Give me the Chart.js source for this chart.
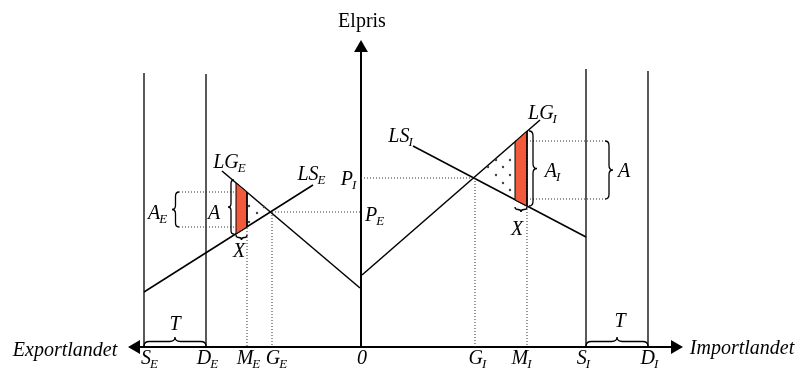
<!DOCTYPE html>
<html>
<head>
<meta charset="utf-8">
<script src="https://cdn.jsdelivr.net/npm/chart.js@4.4.0/dist/chart.umd.min.js"></script>
<style>
  html, body { margin: 0; padding: 0; background: #fff; }
  canvas { display: block; }
</style>
</head>
<body>
<canvas id="myChart" width="805" height="372"></canvas>
<script>
// units: x = quantity from the price axis (export left, import right), y = price above the quantity axis
const axisEnds = [-233, 322];
const priceTop = 307;
const walls = [-217, -155, 225, 287];      // S_E, D_E, S_I, D_I
const wallTops = [274, 273, 278, 276];

// supply / demand lines
const LS_E = [[-217, 55], [-48, 162]];
const LG_E = [[-139, 176], [-1, 59]];
const LS_I = [[52, 201], [225, 110]];
const LG_I = [[1, 72], [179, 227]];

// red strips (loss areas)
const stripE = [[-125, 164], [-114, 155], [-114, 120], [-125, 113]];
const stripI = [[154, 205], [166, 216], [166, 141], [154, 147]];

// dotted guide lines
const guides = [
  [[-89, 135], [0, 135]],     // P_E
  [[-89, 135], [-89, 0]],     // G_E
  [[-114, 155], [-114, 0]],   // M_E
  [[0, 169], [114, 169]],     // P_I
  [[114, 169], [114, 0]],     // G_I
  [[166, 216], [166, 0]],     // M_I
  [[-182, 155], [-114, 155]], // A_E top
  [[-182, 120], [-114, 120]], // A_E bottom
  [[154, 206], [244, 206]],   // A top
  [[154, 148], [244, 148]]    // A bottom
];

// dots in the triangles
const dotsE = [[-112, 141], [-104, 134], [-112, 125], [-97, 140]];
const dotsI = [[135, 187], [149, 187], [127, 180], [142, 180], [135, 172], [149, 172], [142, 164], [149, 157]];

// braces: from a to b, tip on the left of the direction (screen), d = depth px
const braces = [
  { a: [-182, 155], b: [-182, 120], d: 7 },
  { a: [-127, 167], b: [-127, 113], d: 6 },
  { a: [-125, 112], b: [-114, 112], d: 5 },
  { a: [168, 141], b: [168, 216], d: 8 },
  { a: [244, 148], b: [244, 206], d: 8 },
  { a: [154, 140], b: [166, 140], d: 5 },
  { a: [-155, 1], b: [-217, 1], d: 9 },
  { a: [287, 1], b: [225, 1], d: 9 }
];

// texts
const texts = [
  { t: 'Elpris', x: 1, y: 327, it: false },
  { t: 'Exportlandet', x: -296, y: -2 },
  { t: 'Importlandet', x: 381, y: 0 },
  { t: 'S', s: 'E', x: -211, y: -10 },
  { t: 'D', s: 'E', x: -153, y: -10 },
  { t: 'M', s: 'E', x: -112, y: -10 },
  { t: 'G', s: 'E', x: -84, y: -10 },
  { t: '0', x: 1, y: -10 },
  { t: 'G', s: 'I', x: 117, y: -10 },
  { t: 'M', s: 'I', x: 161, y: -10 },
  { t: 'S', s: 'I', x: 223, y: -10 },
  { t: 'D', s: 'I', x: 289, y: -10 },
  { t: 'LG', s: 'E', x: -131, y: 186 },
  { t: 'LS', s: 'E', x: -49, y: 174 },
  { t: 'P', s: 'I', x: -12, y: 169 },
  { t: 'P', s: 'E', x: 14, y: 133 },
  { t: 'LS', s: 'I', x: 40, y: 212 },
  { t: 'LG', s: 'I', x: 182, y: 235 },
  { t: 'A', s: 'E', x: -203, y: 135 },
  { t: 'A', x: -147, y: 135 },
  { t: 'X', x: -122, y: 97 },
  { t: 'A', s: 'I', x: 192, y: 177 },
  { t: 'A', x: 263, y: 177 },
  { t: 'X', x: 156, y: 119 },
  { t: 'T', x: -186, y: 24 },
  { t: 'T', x: 259, y: 27 }
];

const RED = '#f15a3b';
const ARROW = 8;   // arrow head radius; Chart.js also insets the plot area by this much
const pts = arr => arr.map(p => ({ x: p[0], y: p[1] }));
const lineSet = (arr, w) => ({ data: pts(arr), showLine: true, borderColor: '#000', borderWidth: w, pointRadius: 0, fill: false });

const datasets = [];
[stripE, stripI].forEach(s => datasets.push({
  data: pts(s.concat([s[0]])), showLine: true, fill: 'shape', backgroundColor: RED,
  borderColor: '#000', borderWidth: 1, pointRadius: 0
}));
guides.forEach(g => datasets.push({
  data: pts(g), showLine: true, borderColor: '#333', borderWidth: 1, borderDash: [1, 2], pointRadius: 0, fill: false
}));
datasets.push({ data: pts(dotsE.concat(dotsI)), showLine: false, pointRadius: 1.2, backgroundColor: '#444', borderWidth: 0 });
walls.forEach((x, i) => datasets.push(lineSet([[x, 0], [x, wallTops[i]]], 1.3)));
[LS_E, LG_E, LS_I, LG_I].forEach(l => datasets.push(lineSet(l, 1.5)));
datasets.push(lineSet([[0, 0], [0, priceTop - ARROW]], 2));
datasets.push(lineSet([[axisEnds[0] + ARROW, 0], [axisEnds[1] - ARROW, 0]], 2));
datasets.push({
  data: pts([[0, priceTop - ARROW], [axisEnds[0] + ARROW, 0], [axisEnds[1] - ARROW, 0]]),
  showLine: false, pointStyle: 'triangle', pointRadius: ARROW, pointRotation: [0, -90, 90],
  backgroundColor: '#000', borderColor: '#000', borderWidth: 0
});

function drawBrace(ctx, p1, p2, w) {
  const len = Math.hypot(p2[0] - p1[0], p2[1] - p1[1]);
  const ux = (p2[0] - p1[0]) / len, uy = (p2[1] - p1[1]) / len;
  const nx = -uy * w, ny = ux * w;
  const mx = (p1[0] + p2[0]) / 2, my = (p1[1] + p2[1]) / 2;
  const r = Math.min(w * 0.6, len / 4);
  ctx.beginPath();
  ctx.moveTo(p1[0], p1[1]);
  ctx.quadraticCurveTo(p1[0] + nx / 2, p1[1] + ny / 2, p1[0] + nx / 2 + ux * r, p1[1] + ny / 2 + uy * r);
  ctx.lineTo(mx + nx / 2 - ux * r, my + ny / 2 - uy * r);
  ctx.quadraticCurveTo(mx + nx / 2, my + ny / 2, mx + nx, my + ny);
  ctx.quadraticCurveTo(mx + nx / 2, my + ny / 2, mx + nx / 2 + ux * r, my + ny / 2 + uy * r);
  ctx.lineTo(p2[0] + nx / 2 - ux * r, p2[1] + ny / 2 - uy * r);
  ctx.quadraticCurveTo(p2[0] + nx / 2, p2[1] + ny / 2, p2[0], p2[1]);
  ctx.stroke();
}

const annotations = {
  id: 'annotations',
  afterDatasetsDraw(chart) {
    const ctx = chart.ctx, sx = chart.scales.x, sy = chart.scales.y;
    const px = p => [sx.getPixelForValue(p[0]), sy.getPixelForValue(p[1])];
    ctx.save();
    ctx.strokeStyle = '#000';
    ctx.lineWidth = 1.3;
    braces.forEach(b => drawBrace(ctx, px(b.a), px(b.b), b.d));
    ctx.fillStyle = '#000';
    ctx.textAlign = 'left';
    ctx.textBaseline = 'alphabetic';
    texts.forEach(l => {
      const [cx, cy] = px([l.x, l.y]);
      const mainFont = (l.it === false ? '' : 'italic ') + '20px "Liberation Serif", "Times New Roman", serif';
      const subFont = 'italic 13px "Liberation Serif", "Times New Roman", serif';
      ctx.font = mainFont;
      const w1 = ctx.measureText(l.t).width;
      let w2 = 0;
      if (l.s) { ctx.font = subFont; w2 = ctx.measureText(l.s).width; }
      const x0 = cx - (w1 + w2) / 2;
      const base = cy + 7;
      ctx.font = mainFont;
      ctx.fillText(l.t, x0, base);
      if (l.s) { ctx.font = subFont; ctx.fillText(l.s, x0 + w1 - 1, base + 4); }
    });
    ctx.restore();
  }
};

new Chart(document.getElementById('myChart'), {
  type: 'scatter',
  data: { datasets: datasets },
  options: {
    responsive: false,
    animation: false,
    devicePixelRatio: 1,
    layout: { padding: 0 },
    plugins: { legend: { display: false }, tooltip: { enabled: false } },
    scales: {
      x: { type: 'linear', min: -361 + ARROW, max: 444 - ARROW, display: false },
      y: { type: 'linear', min: -25 + ARROW, max: 347 - ARROW, display: false }
    }
  },
  plugins: [annotations]
});
</script>
</body>
</html>
